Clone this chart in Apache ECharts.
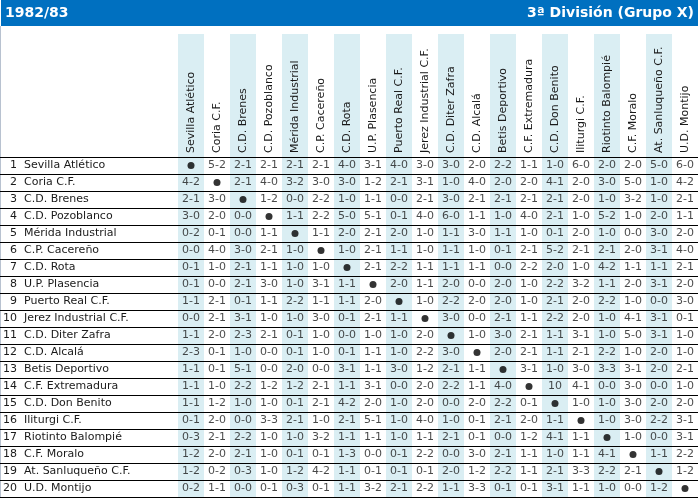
<!DOCTYPE html>
<html><head><meta charset="utf-8">
<script src="https://cdn.jsdelivr.net/npm/echarts@6/dist/echarts.min.js"></script>
<style>html,body{margin:0;padding:0;background:#fff}#c{width:699px;height:498px}</style>
</head><body><div id="c"></div>
<script>
const season = '1982/83';
const competition = '3ª División (Grupo X)';
const teams = ['Sevilla Atlético','Coria C.F.','C.D. Brenes','C.D. Pozoblanco','Mérida Industrial','C.P. Cacereño','C.D. Rota','U.P. Plasencia','Puerto Real C.F.','Jerez Industrial C.F.','C.D. Diter Zafra','C.D. Alcalá','Betis Deportivo','C.F. Extremadura','C.D. Don Benito','Iliturgi C.F.','Riotinto Balompié','C.F. Moralo','At. Sanluqueño C.F.','U.D. Montijo'];
// home team rows, away team columns; 'x' = same team
const results = [
 'x 5-2 2-1 2-1 2-1 2-1 4-0 3-1 4-0 3-0 3-0 2-0 2-2 1-1 1-0 6-0 2-0 2-0 5-0 6-0',
 '4-2 x 2-1 4-0 3-2 3-0 3-0 1-2 2-1 3-1 1-0 4-0 2-0 2-0 4-1 2-0 3-0 5-0 1-0 4-2',
 '2-1 3-0 x 1-2 0-0 2-2 1-0 1-1 0-0 2-1 3-0 2-1 2-1 2-1 2-1 2-0 1-0 3-2 1-0 2-1',
 '3-0 2-0 0-0 x 1-1 2-2 5-0 5-1 0-1 4-0 6-0 1-1 1-0 4-0 2-1 1-0 5-2 1-0 2-0 1-1',
 '0-2 0-1 0-0 1-1 x 1-1 2-0 2-1 2-0 1-0 1-1 3-0 1-1 1-0 0-1 2-0 1-0 0-0 3-0 2-0',
 '0-0 4-0 3-0 2-1 1-0 x 1-0 2-1 1-1 1-0 1-1 1-0 0-1 2-1 5-2 2-1 2-1 2-0 3-1 4-0',
 '0-1 1-0 2-1 1-1 1-0 1-0 x 2-1 2-2 1-1 1-1 1-1 0-0 2-2 2-0 1-0 4-2 1-1 1-1 2-1',
 '0-1 0-0 2-1 3-0 1-0 3-1 1-1 x 2-0 1-1 2-0 0-0 2-0 1-0 2-2 3-2 1-1 2-0 3-1 2-0',
 '1-1 2-1 0-1 1-1 2-2 1-1 1-1 2-0 x 1-0 2-2 2-0 2-0 1-0 2-1 2-0 2-2 1-0 0-0 3-0',
 '0-0 2-1 3-1 1-0 1-0 3-0 0-1 2-1 1-1 x 3-0 0-0 2-1 1-1 2-2 2-0 1-0 4-1 3-1 0-1',
 '1-1 2-0 2-3 2-1 0-1 1-0 0-0 1-0 1-0 2-0 x 1-0 3-0 2-1 1-1 3-1 1-0 5-0 3-1 1-0',
 '2-3 0-1 1-0 0-0 0-1 1-0 0-1 1-1 1-0 2-2 3-0 x 2-0 2-1 1-1 2-1 2-2 1-0 2-0 1-0',
 '1-1 0-1 5-1 0-0 2-0 0-0 3-1 1-1 3-0 1-2 2-1 1-1 x 3-1 1-0 3-0 3-3 3-1 2-0 2-1',
 '1-1 1-0 2-2 1-2 1-2 2-1 1-1 3-1 0-0 2-0 2-2 1-1 4-0 x 10 4-1 0-0 3-0 0-0 1-0',
 '1-1 1-2 1-0 1-0 0-1 2-1 4-2 2-0 1-0 2-0 0-0 2-0 2-2 0-1 x 1-0 1-0 3-0 2-0 2-0',
 '0-1 2-0 0-0 3-3 2-1 1-0 2-1 5-1 1-0 4-0 1-0 0-1 2-1 2-0 1-1 x 1-0 3-0 2-2 3-1',
 '0-3 2-1 2-2 1-0 1-0 3-2 1-1 1-1 1-0 1-1 2-1 0-1 0-0 1-2 4-1 1-1 x 1-0 0-0 3-1',
 '1-2 2-0 2-1 1-0 0-1 0-1 1-3 0-0 0-1 2-2 0-0 3-0 2-1 1-1 1-0 1-1 4-1 x 1-1 2-2',
 '1-2 0-2 0-3 1-0 1-2 4-2 1-1 0-1 0-1 0-1 2-0 1-2 2-2 1-1 2-1 3-3 2-2 2-1 x 1-2',
 '0-2 1-1 0-0 0-1 0-3 0-1 1-1 3-2 2-1 2-2 1-1 3-3 0-1 0-1 3-1 1-1 1-0 0-0 1-2 x'
];

const FONT = 'DejaVu Sans';
const TXT = '#1a1a1a';
const BAND = ['#DAEEF3', 'rgba(255,255,255,0)'];

const scoreData = [];
const dotData = [];
results.forEach((row, i) => {
  row.split(' ').forEach((v, j) => {
    if (v === 'x') dotData.push([j, i]);
    else scoreData.push([j, i, v]);
  });
});

const chart = echarts.init(document.getElementById('c'), null, {renderer: 'canvas'});
chart.setOption({
  animation: false,
  backgroundColor: '#fff',
  graphic: [
    {type: 'rect', left: 0, top: 26, shape: {width: 1, height: 472}, style: {fill: '#b8c2d0'}, z: 0},
    {type: 'rect', left: 1, top: 0, shape: {width: 697, height: 26}, style: {fill: '#0070C0'}, z: 0}
  ],
  title: [
    {text: season, left: 5, top: 6, padding: 0,
     textStyle: {color: '#fff', fontSize: 14, fontWeight: 'bold', fontFamily: FONT, lineHeight: 14}},
    {text: competition, right: 5, top: 6, padding: 0,
     textStyle: {color: '#fff', fontSize: 14, fontWeight: 'bold', fontFamily: FONT, lineHeight: 14}}
  ],
  grid: [
    {left: 178, right: 1, top: 157, bottom: 1, containLabel: false},
    {left: 178, right: 1, top: 34, height: 123, containLabel: false}
  ],
  xAxis: [
    {type: 'category', gridIndex: 0, data: teams, position: 'top', z: 0,
     axisLine: {show: false}, axisTick: {show: false},
     axisLabel: {show: true, rotate: -90, margin: 4, interval: 0, fontSize: 11, color: TXT, fontFamily: FONT},
     splitLine: {show: false},
     splitArea: {show: true, interval: 0, areaStyle: {color: BAND}}},
    {type: 'category', gridIndex: 1, data: teams, z: 0,
     axisLine: {show: false}, axisTick: {show: false}, axisLabel: {show: false},
     splitLine: {show: false},
     splitArea: {show: true, interval: 0, areaStyle: {color: BAND}}}
  ],
  yAxis: [
    {type: 'category', gridIndex: 0, data: teams, inverse: true, position: 'left', z: 3,
     axisLine: {show: false},
     axisTick: {show: true, interval: 0, length: 178, lineStyle: {color: '#000', width: 1}},
     splitLine: {show: true, interval: 0, lineStyle: {color: '#000', width: 1}},
     axisLabel: {show: true, interval: 0, margin: 161, align: 'right', fontSize: 11, color: TXT, fontFamily: FONT,
                 formatter: (v, i) => String(i + 1)}},
    {type: 'category', gridIndex: 0, data: teams, inverse: true, position: 'left', offset: 0, z: 3,
     axisLine: {show: false}, axisTick: {show: false}, splitLine: {show: false},
     axisLabel: {show: true, interval: 0, margin: 154, align: 'left', fontSize: 11, color: TXT, fontFamily: FONT}},
    {type: 'value', gridIndex: 1, show: false}
  ],
  series: [
    {type: 'scatter', xAxisIndex: 0, yAxisIndex: 0, data: scoreData, symbolSize: 1, silent: true, z: 5,
     itemStyle: {color: 'rgba(0,0,0,0)'},
     label: {show: true, position: 'inside', formatter: p => p.data[2], fontSize: 11, color: TXT, fontFamily: FONT}},
    {type: 'scatter', xAxisIndex: 0, yAxisIndex: 0, data: dotData, symbol: 'circle', symbolSize: 7, silent: true, z: 5,
     itemStyle: {color: '#000'}}
  ]
});
</script></body></html>
